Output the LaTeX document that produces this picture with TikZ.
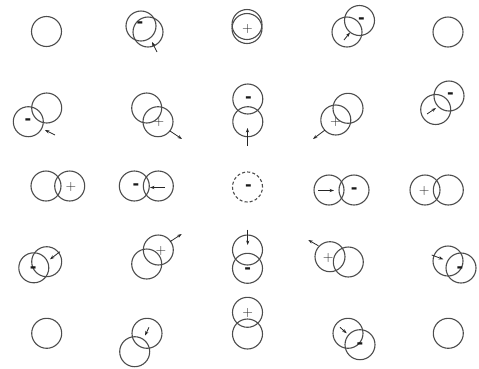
\documentclass[tikz,border=0pt]{standalone}
\usepackage{fontspec}
\newfontfamily\minusfont{DejaVu Sans}
\usetikzlibrary{arrows.meta}
\begin{document}
\begin{tikzpicture}[x=1pt,y=-1pt,
  ring/.style={circle, draw=black!70, line width=1.1pt, minimum size=30pt, inner sep=0pt},
  dring/.style={ring, dashed, dash pattern=on 3pt off 2.2pt},
  plussign/.style={inner sep=0pt, text=black!85, font=\fontsize{14}{14}\selectfont},
  minussign/.style={inner sep=0pt, text=black!90, font=\minusfont\bfseries\fontsize{16}{16}\selectfont},
  arr/.style={draw=black!85, line width=0.8pt, -{Stealth[length=4.5pt,width=3.2pt]}}]
\useasboundingbox (0,0) rectangle (479,368);
% ---- row 1
\node[ring] (c11) at (46.5,31.5) {};
\node[ring] (c12a) at (141,26) {};
\node[ring] (c12b) at (148,32) {};
\node[minussign] (m12) at (140,24.5) {-};
\coordinate (s12) at (157,52); \coordinate (e12) at (152,42);
\draw[arr] (s12) -- (e12);
\node[ring] (c13a) at (247,24.5) {};
\node[ring] (c13b) at (247,28.5) {};
\node[plussign] (p13) at (247.5,29.5) {+};
\node[ring] (c14a) at (359.5,20.5) {};
\node[ring] (c14b) at (347,32) {};
\node[minussign] (m14) at (361.5,20.5) {-};
\coordinate (s14) at (344,40); \coordinate (e14) at (350,32.5);
\draw[arr] (s14) -- (e14);
\node[ring] (c15) at (448,32) {};
% ---- row 2
\node[ring] (c21a) at (46.7,108) {};
\node[ring] (c21b) at (28.3,121.7) {};
\node[minussign] (m21) at (28,122) {-};
\coordinate (s21) at (55,135); \coordinate (e21) at (45,130);
\draw[arr] (s21) -- (e21);
\node[ring] (c22a) at (146.7,108) {};
\node[ring] (c22b) at (158,121.7) {};
\node[plussign] (p22) at (159,122.5) {+};
\coordinate (s22) at (170,131); \coordinate (e22) at (182,139);
\draw[arr] (s22) -- (e22);
\node[ring] (c23a) at (247.8,99) {};
\node[ring] (c23b) at (247.8,121.7) {};
\node[minussign] (m23) at (248.5,99.5) {-};
\coordinate (s23) at (247.5,146); \coordinate (e23) at (247.5,128);
\draw[arr] (s23) -- (e23);
\node[ring] (c24a) at (348,108.3) {};
\node[ring] (c24b) at (335.8,120) {};
\node[plussign] (p24) at (335.5,122) {+};
\coordinate (s24) at (325,130); \coordinate (e24) at (313,139);
\draw[arr] (s24) -- (e24);
\node[ring] (c25a) at (449,96) {};
\node[ring] (c25b) at (435.7,109.5) {};
\node[minussign] (m25) at (450.5,96) {-};
\coordinate (s25) at (427,114); \coordinate (e25) at (436,108);
\draw[arr] (s25) -- (e25);
% ---- row 3
\node[ring] (c31a) at (46,186) {};
\node[ring] (c31b) at (69.7,186) {};
\node[plussign] (p31) at (71,186.5) {+};
\node[ring] (c32a) at (134.3,186) {};
\node[ring] (c32b) at (158.3,186) {};
\node[minussign] (m32) at (136,186.7) {-};
\coordinate (s32) at (165,187.5); \coordinate (e32) at (150,187.5);
\draw[arr] (s32) -- (e32);
\node[dring] (c33) at (247.5,187) {};
\node[minussign] (m33) at (248.5,187.3) {-};
\node[ring] (c34a) at (329,190) {};
\node[ring] (c34b) at (354,190) {};
\node[minussign] (m34) at (354.3,190.5) {-};
\coordinate (s34) at (318,190.5); \coordinate (e34) at (334,190.5);
\draw[arr] (s34) -- (e34);
\node[ring] (c35a) at (425,190) {};
\node[ring] (c35b) at (448.3,190) {};
\node[plussign] (p35) at (424.3,190.5) {+};
% ---- row 4
\node[ring] (c41a) at (46.7,261.7) {};
\node[ring] (c41b) at (33.8,267.8) {};
\node[minussign] (m41) at (33.3,269.3) {-};
\coordinate (s41) at (60,251.7); \coordinate (e41) at (50,259.3);
\draw[arr] (s41) -- (e41);
\node[ring] (c42a) at (146.7,264) {};
\node[ring] (c42b) at (158.3,250) {};
\node[plussign] (p42) at (161,251) {+};
\coordinate (s42) at (170,241.7); \coordinate (e42) at (181.7,234);
\draw[arr] (s42) -- (e42);
\node[ring] (c43a) at (247.5,250) {};
\node[ring] (c43b) at (247.5,268.3) {};
\node[minussign] (m43) at (247.7,270.7) {-};
\coordinate (s43) at (247.7,229.5); \coordinate (e43) at (247.7,245);
\draw[arr] (s43) -- (e43);
\node[ring] (c44a) at (330,256.7) {};
\node[ring] (c44b) at (348.3,262) {};
\node[plussign] (p44) at (328.3,257.7) {+};
\coordinate (s44) at (318.3,245.7); \coordinate (e44) at (308.3,240);
\draw[arr] (s44) -- (e44);
\node[ring] (c45a) at (448,261) {};
\node[ring] (c45b) at (461,268) {};
\node[minussign] (m45) at (460,270) {-};
\coordinate (s45) at (431.7,255); \coordinate (e45) at (443.3,259.3);
\draw[arr] (s45) -- (e45);
% ---- row 5
\node[ring] (c51) at (46.7,333.3) {};
\node[ring] (c52a) at (147,333.3) {};
\node[ring] (c52b) at (134.7,351.7) {};
\coordinate (s52) at (149,327.3); \coordinate (e52) at (145,335.5);
\draw[arr] (s52) -- (e52);
\node[ring] (c53a) at (247.5,312.3) {};
\node[ring] (c53b) at (247.5,334) {};
\node[plussign] (p53) at (247.7,313.3) {+};
\node[ring] (c54a) at (348,333.3) {};
\node[ring] (c54b) at (360,344.7) {};
\node[minussign] (m54) at (360,346) {-};
\coordinate (s54) at (340,327.3); \coordinate (e54) at (346.7,333.3);
\draw[arr] (s54) -- (e54);
\node[ring] (c55) at (448.3,333.3) {};
\end{tikzpicture}
\end{document}
